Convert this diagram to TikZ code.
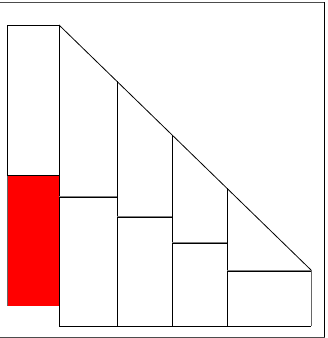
\documentclass[tikz,border=0pt]{standalone}
\begin{document}
\begin{tikzpicture}[x=1pt,y=-1pt,line width=0.8pt]
  \useasboundingbox (0,0) rectangle (328,338);
  \draw[black!70] (0,2) -- (324.5,2);
  \draw[black!70] (0,337) -- (324.5,337);
  \draw (324.5,2) -- (324.5,337);
  \fill[red] (7,175) rectangle (59,305.5);
  \draw[black!60] (7,175) -- (7,305.5);
  \draw (7,175) -- (7,25) -- (59,25) -- (59,326) -- (311,326);
  \draw[black!60] (311,326) -- (311,270);
  \draw (7,175) -- (59,175);
  \draw (59,25) -- (311,270);
  \draw (117,81.4) -- (117,326);
  \draw (172,134.9) -- (172,326);
  \draw (227,188.3) -- (227,326);
  \foreach \xa/\xb/\yy in {59/117/197, 117/172/217.5, 172/227/243.5, 227/311/271}{
    \draw[gray] (\xa,\yy-0.9) -- (\xb,\yy-0.9);
    \draw (\xa,\yy) -- (\xb,\yy);
  }
\end{tikzpicture}
\end{document}
